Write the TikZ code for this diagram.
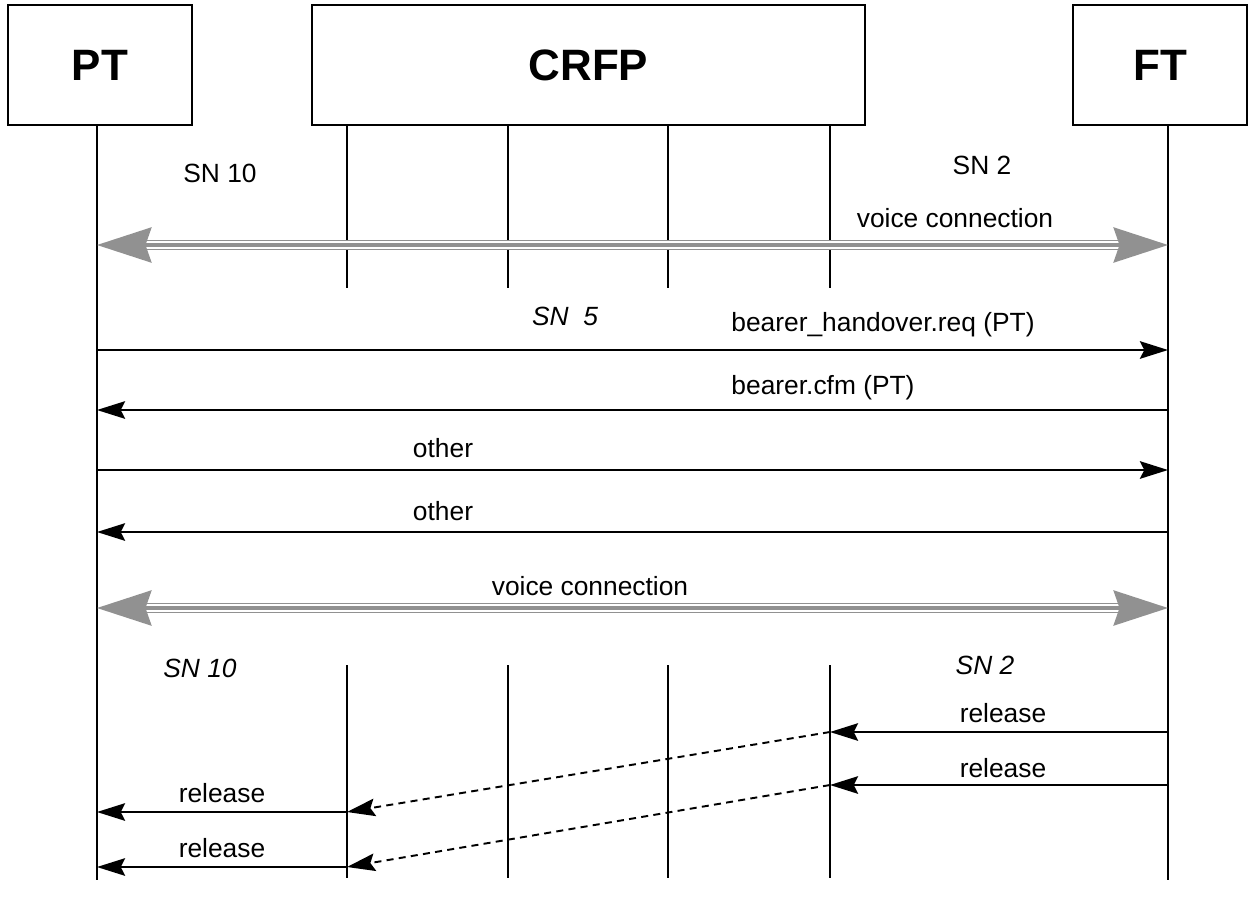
\documentclass[tikz,border=0pt]{standalone}
\usepackage{fontspec}
\setmainfont{Liberation Sans}
\usepackage{tikz}
\usetikzlibrary{arrows.meta, positioning}
\definecolor{voicegray}{RGB}{145,145,145}

\begin{document}
\begin{tikzpicture}[
    x=0.02cm, y=-0.02cm,
    entity/.style={rectangle, draw, line width=0.8pt, inner sep=0pt, minimum height=2.4cm, font=\bfseries\fontsize{25}{30}\selectfont},
    life/.style={line width=1.1pt},
    msg/.style={-{Stealth[length=16pt, width=10pt, inset=2.5pt]}, line width=1.1pt},
    relay/.style={msg, dash pattern=on 4pt off 3pt},
    voice/.style={draw=voicegray, line width=1pt, double=white, double distance=4pt, shorten <=27pt, shorten >=27pt},
    voicetip/.style={{Stealth[length=31pt, width=20pt, inset=3.4pt]}-{Stealth[length=31pt, width=20pt, inset=3.4pt]}, draw=voicegray, fill=voicegray, line width=1.8pt},
    msgtext/.style={font=\fontsize{15}{18}\selectfont, inner sep=0pt},
    sntext/.style={font=\itshape\fontsize{15}{18}\selectfont, inner sep=0pt}
]
    \useasboundingbox (0,0) rectangle (1251,907);

    % Entities
    \node[entity, minimum width=3.68cm] (PT) at (100,65) {PT};
    \node[entity, minimum width=11.06cm] (CRFP) at (588.5,65) {CRFP};
    \node[entity, minimum width=3.48cm] (FT) at (1160,65) {FT};

    % Lifelines
    \coordinate (ptTop) at (97,125);
    \coordinate (ptEnd) at (97,880);
    \coordinate (ftTop) at (1168,125);
    \coordinate (ftEnd) at (1168,880);
    \draw[life] (ptTop) -- (ptEnd);
    \draw[life] (ftTop) -- (ftEnd);
    \foreach \i/\x in {1/347, 2/508, 3/668, 4/830} {
        \coordinate (rfp\i) at (\x,665);
        \draw[life] (\x,125) -- (\x,288);
        \draw[life] (rfp\i) -- (\x,878);
    }

    % Before handover
    \node[msgtext] (sn10a) at (220,173) {SN 10};
    \node[msgtext] (sn2a) at (982,165) {SN 2};
    \node[msgtext] (voicea) at (955,218) {voice connection};
    \draw[voice] (ptTop |- 0,245) -- (ftTop |- 0,245);
    \draw[voicetip] (ptTop |- 0,245) -- (ftTop |- 0,245);

    % Handover
    \node[sntext] (sn5) at (565,316) {SN\ \ 5};
    \node[msgtext] (m1) at (883,325) {bearer\_handover.req (PT)};
    \draw[msg] (ptTop |- 0,350) -- (ftTop |- 0,350);
    \node[msgtext] (m2) at (823,388) {bearer.cfm (PT)};
    \draw[msg] (ftTop |- 0,410) -- (ptTop |- 0,410);
    \node[msgtext] (m3) at (443,448) {other};
    \draw[msg] (ptTop |- 0,470) -- (ftTop |- 0,470);
    \node[msgtext] (m4) at (443,511) {other};
    \draw[msg] (ftTop |- 0,532) -- (ptTop |- 0,532);

    % After handover
    \node[msgtext] (voiceb) at (590,586) {voice connection};
    \draw[voice] (ptTop |- 0,608) -- (ftTop |- 0,608);
    \draw[voicetip] (ptTop |- 0,608) -- (ftTop |- 0,608);
    \node[sntext] (sn10b) at (200,668) {SN 10};
    \node[sntext] (sn2b) at (985,665) {SN 2};

    % Release
    \node[msgtext] (r1) at (1003,713) {release};
    \draw[msg] (ftTop |- 0,732) -- (rfp4 |- 0,732);
    \node[msgtext] (r2) at (1003,768) {release};
    \draw[msg] (ftTop |- 0,785) -- (rfp4 |- 0,785);
    \draw[relay] (rfp4 |- 0,732) -- (rfp1 |- 0,812);
    \draw[relay] (rfp4 |- 0,785) -- (rfp1 |- 0,867);
    \node[msgtext] (r3) at (222,793) {release};
    \draw[msg] (rfp1 |- 0,812) -- (ptTop |- 0,812);
    \node[msgtext] (r4) at (222,848) {release};
    \draw[msg] (rfp1 |- 0,867) -- (ptTop |- 0,867);
\end{tikzpicture}
\end{document}
